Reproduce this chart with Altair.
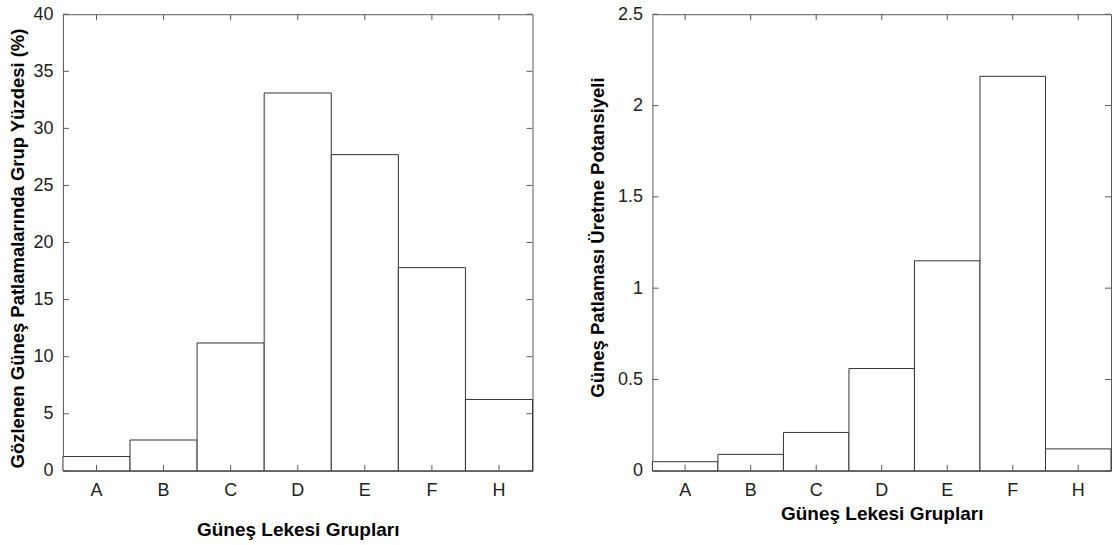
import altair as alt
import pandas as pd

groups = ["A", "B", "C", "D", "E", "F", "H"]
percent = [1.25, 2.7, 11.2, 33.1, 27.7, 17.8, 6.25]
potential = [0.05, 0.09, 0.21, 0.56, 1.15, 2.16, 0.12]

left_ticks = [0, 5, 10, 15, 20, 25, 30, 35, 40]
right_ticks = [0, 0.5, 1, 1.5, 2, 2.5]

FONT = "Liberation Sans"
H = 457
W1 = 470
W2 = 459
TICK = 6
FRAME = "#5a5a5a"
BAR_STROKE = "#333333"

df_left = pd.DataFrame({"g": groups, "v": percent})
df_right = pd.DataFrame({"g": groups, "v": potential})
df_cat = pd.DataFrame({"g": groups})


def panel(df, width, ymax, yticks, ytitle, title_x, title_y, xtitle_y, fmt):
    xscale = alt.Scale(domain=groups, paddingInner=0, paddingOuter=0)
    yscale = alt.Scale(domain=[0, ymax], nice=False, zero=True)
    df_t = pd.DataFrame({"v": yticks})

    xaxis = alt.Axis(labelAngle=0, ticks=False, domain=False, grid=False,
                     labelPadding=11, labelFontSize=18, labelFont=FONT,
                     labelColor="#222222",
                     titleFont=FONT, titleFontSize=19, titleFontWeight="bold",
                     titleColor="#000000", titleY=xtitle_y,
                     titleBaseline="middle")
    yaxis = alt.Axis(values=yticks, format=fmt, ticks=False, domain=False,
                     grid=False, labelPadding=10, labelFontSize=18,
                     labelFont=FONT, labelColor="#222222",
                     titleFont=FONT, titleFontSize=18.5, titleFontWeight="bold",
                     titleColor="#000000", titleAngle=270, titleX=title_x,
                     titleY=title_y, titleAlign="center",
                     titleBaseline="middle")

    bars = alt.Chart(df).mark_bar(
        fill="white", stroke=BAR_STROKE, strokeWidth=1
    ).encode(
        x=alt.X("g:N", scale=xscale, sort=groups, title="Güneş Lekesi Grupları",
                axis=xaxis),
        y=alt.Y("v:Q", scale=yscale, title=ytitle, axis=yaxis),
    )

    ytick_l = alt.Chart(df_t).mark_rule(color=FRAME, strokeWidth=1).encode(
        y=alt.Y("v:Q", scale=yscale, title=ytitle, axis=yaxis),
        x=alt.value(0), x2=alt.value(TICK))
    ytick_r = alt.Chart(df_t).mark_rule(color=FRAME, strokeWidth=1).encode(
        y=alt.Y("v:Q", scale=yscale, title=ytitle, axis=yaxis),
        x=alt.value(width - TICK), x2=alt.value(width))
    xtick_b = alt.Chart(df_cat).mark_rule(color=FRAME, strokeWidth=1).encode(
        x=alt.X("g:N", scale=xscale, sort=groups, bandPosition=0.5,
                title="Güneş Lekesi Grupları", axis=xaxis),
        y=alt.value(H - TICK), y2=alt.value(H))
    xtick_t = alt.Chart(df_cat).mark_rule(color=FRAME, strokeWidth=1).encode(
        x=alt.X("g:N", scale=xscale, sort=groups, bandPosition=0.5,
                title="Güneş Lekesi Grupları", axis=xaxis),
        y=alt.value(0), y2=alt.value(TICK))

    return alt.layer(bars, ytick_l, ytick_r, xtick_b, xtick_t).properties(
        width=width, height=H)


left = panel(df_left, W1, 40, left_ticks,
             "Gözlenen Güneş Patlamalarında Grup Yüzdesi (%)", -45, 234, 59, "~g")
right = panel(df_right, W2, 2.5, right_ticks,
              "Güneş Patlaması Üretme Potansiyeli", -55, 223, 43, "~g")

chart = alt.hconcat(left, right, spacing=54).properties(
    padding={"left": 8, "top": 4, "right": 0, "bottom": 0},
    background="white",
).configure_view(stroke=FRAME, strokeWidth=1)

chart.save("out.html", embed_options={"renderer": "svg", "actions": False})
